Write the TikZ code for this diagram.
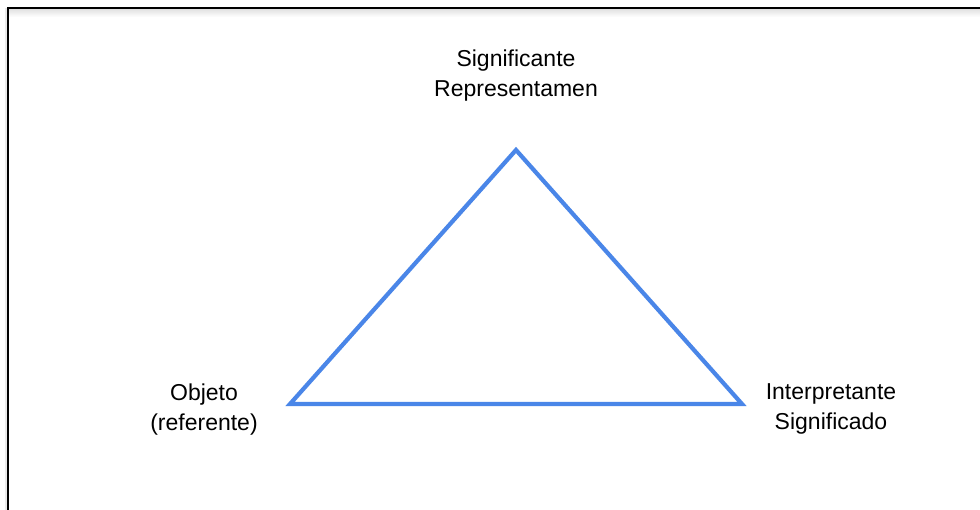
\documentclass[tikz,border=0pt]{standalone}
\usepackage{fontspec}
\setmainfont{Liberation Sans}
\definecolor{triblue}{RGB}{74,134,232}
\definecolor{shade}{RGB}{225,225,225}
\begin{document}
\begin{tikzpicture}[x=1pt,y=-1pt,
  lbl/.style={align=center,inner sep=0pt,font=\fontsize{23}{30}\selectfont,text=black},
  edge/.style={draw=triblue,line width=4.2pt,line join=miter}]
\useasboundingbox (0,0) rectangle (980,510);
\fill[white] (0,0) rectangle (980,510);
% frame shadow
\shade[top color=shade,bottom color=white] (9,9) rectangle (980,17);
\fill[shade!70] (5,8) rectangle (7,510);
% frame
\draw[black,line width=1.8pt] (8,510) -- (8,8) -- (980,8);
% vertices
\coordinate (top) at (516,150);
\coordinate (left) at (290,404);
\coordinate (right) at (742,404);
\draw[edge] (top) -- (right) -- (left) -- cycle;
% labels
\node[lbl] (sig) at (516,76) {Significante\\Representamen};
\node[lbl] (obj) at (204,410) {Objeto\\(referente)};
\node[lbl] (int) at (831,409) {Interpretante\\Significado};
\end{tikzpicture}
\end{document}
